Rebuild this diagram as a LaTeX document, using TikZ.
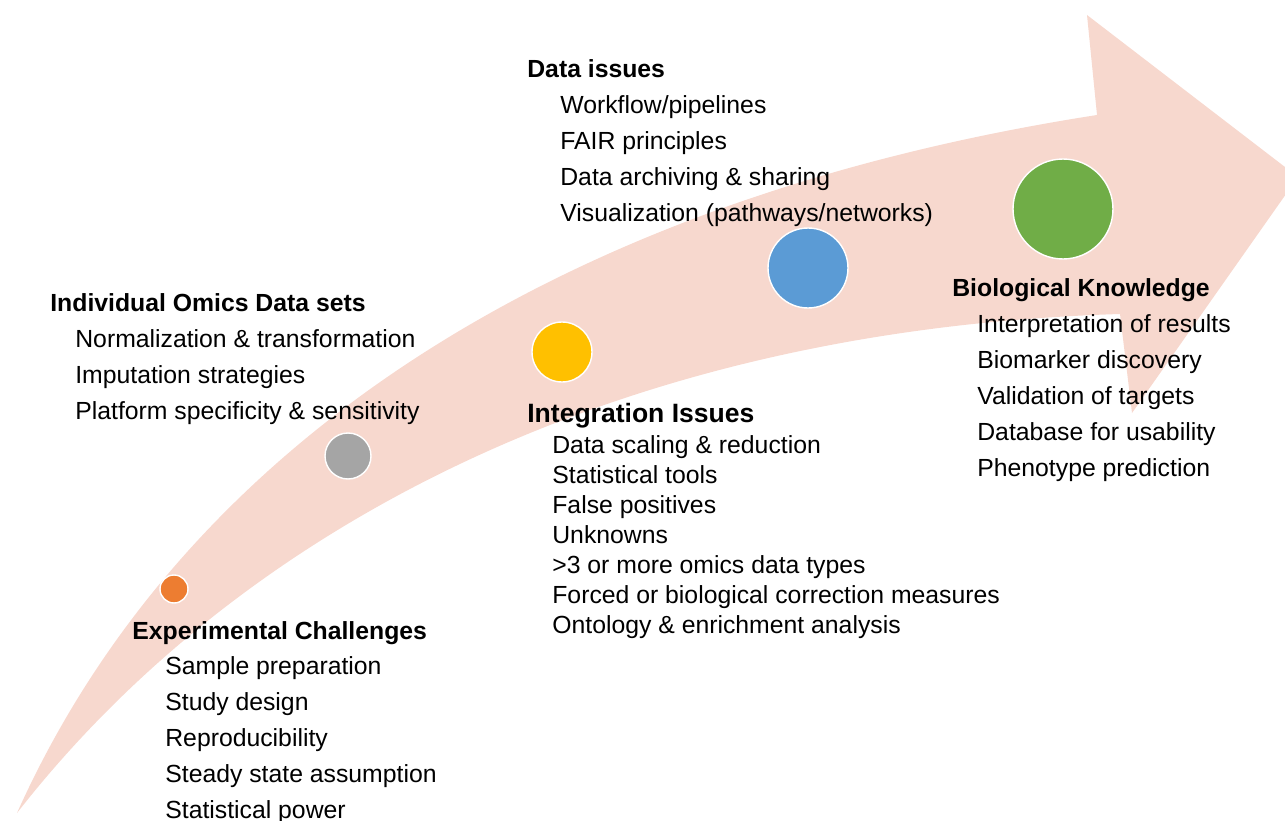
\documentclass[tikz,border=0pt]{standalone}
\usepackage{fontspec}
\setmainfont{Liberation Sans}
\usetikzlibrary{positioning}

\definecolor{arrowpink}{HTML}{F7D8CE}
\definecolor{expcol}{HTML}{ED7D31}
\definecolor{omicscol}{HTML}{A5A5A5}
\definecolor{integcol}{HTML}{FFC000}
\definecolor{datacol}{HTML}{5B9BD5}
\definecolor{biocol}{HTML}{70AD47}

\begin{document}
\begin{tikzpicture}[
        x = 0.02cm, y = -0.02cm,
        stage/.style = {circle, draw = white, line width = 0.8pt, inner sep = 0pt, fill = #1},
        heading/.style = {anchor = base west, inner sep = 0pt, font = \fontsize{14.1}{20.5}\selectfont\bfseries},
        items/.style = {anchor = north west, inner sep = 0pt, align = left, font = \fontsize{14.1}{20.5}\selectfont},
        tightitems/.style = {items, font = \fontsize{14.1}{17.07}\selectfont}
    ]
        \useasboundingbox (0,0) rectangle (1285,821);
        \clip (0,0) rectangle (1285,821);

        % the big curved arrow
        \fill[arrowpink] (17,813) .. controls (180,450) and (550,200) .. (1097,115) -- (1087,15) -- (1298,177) -- (1132,413) -- (1120,314) .. controls (600,330) and (230,540) .. (17,813) -- cycle;

        \node[stage = expcol, minimum size = 0.56cm] (expdot) at (174,589) {};
        \node[stage = omicscol, minimum size = 0.92cm] (omicsdot) at (348,456) {};
        \node[stage = integcol, minimum size = 1.2cm] (integdot) at (562,352) {};
        \node[stage = datacol, minimum size = 1.6cm] (datadot) at (808,268) {};
        \node[stage = biocol, minimum size = 2cm] (biodot) at (1063,209) {};

        \node[heading] (exptitle) at (132,639) {Experimental Challenges};
        \node[items] (explist) at (165,649) {\strut Sample preparation\\ Study design\\ Reproducibility\\ Steady state assumption\\ Statistical power};

        \node[heading] (omicstitle) at (50,311) {Individual Omics Data sets};
        \node[items] (omicslist) at (75,322) {\strut Normalization \& transformation\\ Imputation strategies\\ Platform specificity \& sensitivity};

        \node[heading, font = \fontsize{15.1}{20.5}\selectfont\bfseries] (integtitle) at (527,422.5) {Integration Issues};
        \node[tightitems] (integlist) at (552,432) {\strut Data scaling \& reduction\\ Statistical tools\\ False positives\\ Unknowns\\ >3 or more omics data types\\ Forced or biological correction measures\\ Ontology \& enrichment analysis};

        \node[heading] (datatitle) at (527,78) {Data issues};
        \node[items] (datalist) at (560,88) {\strut Workflow/pipelines\\ FAIR principles\\ Data archiving \& sharing\\ Visualization (pathways/networks)};

        \node[heading] (biotitle) at (952,296) {Biological Knowledge};
        \node[items] (biolist) at (977,307) {\strut Interpretation of results\\ Biomarker discovery\\ Validation of targets\\ Database for usability\\ Phenotype prediction};
    \end{tikzpicture}
\end{document}
